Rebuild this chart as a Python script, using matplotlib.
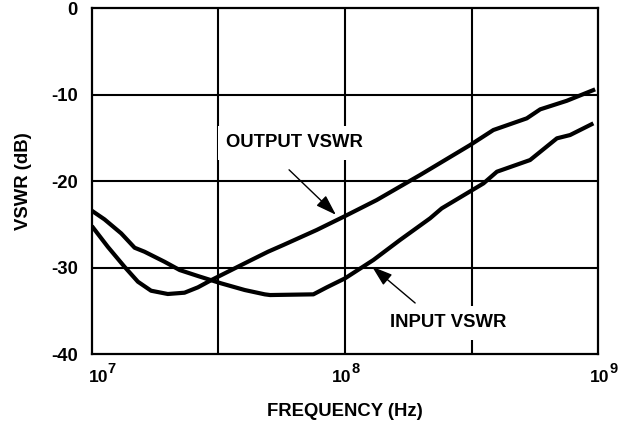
import matplotlib
matplotlib.use('Agg')
import matplotlib.pyplot as plt

plt.rcParams['font.family'] = 'Liberation Sans'
plt.rcParams['font.weight'] = 'bold'
plt.rcParams['axes.unicode_minus'] = False

FS = 13.3

# (log10 of frequency in Hz, VSWR in dB)
input_logf = [7.0, 7.05, 7.116, 7.169, 7.208, 7.287, 7.347, 7.419, 7.511, 7.604, 7.683,
              7.704, 7.875, 7.928, 8.0, 8.112, 8.217, 8.336, 8.382, 8.547, 8.6, 8.731,
              8.837, 8.889, 8.981]
input_vswr = [-23.43, -24.43, -26.05, -27.71, -28.17, -29.33, -30.29, -30.98, -31.83, -32.6, -33.1,
              -33.18, -33.1, -32.29, -31.25, -29.13, -26.82, -24.31, -23.16, -20.27, -18.92, -17.57,
              -15.06, -14.68, -13.33]

output_logf = [7.0, 7.063, 7.129, 7.182, 7.234, 7.3, 7.366, 7.419, 7.472, 7.551, 7.63,
               7.696, 7.756, 7.888, 8.0, 8.125, 8.296, 8.494, 8.586, 8.718, 8.771, 8.876, 8.988]
output_vswr = [-25.2, -27.6, -29.91, -31.64, -32.68, -33.06, -32.91, -32.29, -31.45, -30.29, -29.13,
               -28.17, -27.4, -25.66, -24.05, -22.2, -19.31, -15.84, -14.1, -12.75, -11.71, -10.72, -9.4]

decades = [1e7, 1e8, 1e9]
exponents = ['7', '8', '9']
y_ticks = [0, -10, -20, -30, -40]

input_freq = [10 ** v for v in input_logf]
output_freq = [10 ** v for v in output_logf]

fig = plt.figure(figsize=(6.29, 4.25), dpi=100)
ax = fig.add_axes([0.146, 0.167, 0.805, 0.814])

ax.plot(input_freq, input_vswr, color='black', lw=3, solid_joinstyle='round', solid_capstyle='butt')
ax.plot(output_freq, output_vswr, color='black', lw=3, solid_joinstyle='round', solid_capstyle='butt')

ax.set_xscale('log')
ax.set_xlim(1e7, 1e9)
ax.set_ylim(-40, 0)

ax.set_xticks(decades)
ax.set_xticklabels([])
ax.set_xticks([10 ** 7.5, 10 ** 8.5], minor=True)
ax.set_xticklabels([], minor=True)
ax.set_yticks(y_ticks)
ax.tick_params(which='both', length=0, labelsize=FS)
ax.tick_params(axis='y', pad=10)

# "10" with a big superscript under each decade
shifts = [-3, -13, -8]
for x, e, dx in zip(decades, exponents, shifts):
    ax.annotate('10', xy=(x, 0), xycoords=('data', 'axes fraction'), xytext=(dx, -28),
                textcoords='offset pixels', ha='left', va='baseline', fontsize=12.6,
                fontweight='bold', annotation_clip=False)
    ax.annotate(e, xy=(x, 0), xycoords=('data', 'axes fraction'), xytext=(dx + 19, -19),
                textcoords='offset pixels', ha='left', va='baseline', fontsize=10.5,
                fontweight='bold', annotation_clip=False)

for v in [10 ** 7.5, 1e8, 10 ** 8.5]:
    ax.axvline(v, color='black', lw=1.5, zorder=1)
for v in [-10, -20, -30]:
    ax.axhline(v, color='black', lw=1.5, zorder=1)
for s in ax.spines.values():
    s.set_linewidth(1.6)

ax.set_xlabel('FREQUENCY (Hz)', fontsize=FS, fontweight='bold', va='top')
ax.xaxis.set_label_coords(0.5, -0.142)
ax.set_ylabel('VSWR (dB)', fontsize=FS, fontweight='bold', labelpad=14)

box = dict(facecolor='white', edgecolor='none', pad=6)
ax.text(10 ** 7.80, -15.6, 'OUTPUT VSWR', fontsize=FS, fontweight='bold',
        ha='center', va='center', bbox=box, zorder=3)
ax.text(10 ** 8.407, -36.4, 'INPUT VSWR', fontsize=FS, fontweight='bold',
        ha='center', va='center', bbox=box, zorder=3)

arrow = dict(arrowstyle='-|>,head_length=0.9,head_width=0.3', color='black', lw=1,
             shrinkA=0, shrinkB=0, mutation_scale=14)
ax.annotate('', xy=(10 ** 7.964, -23.9), xytext=(10 ** 7.779, -18.7), arrowprops=arrow, zorder=4)
ax.annotate('', xy=(10 ** 8.107, -29.9), xytext=(10 ** 8.277, -34.1), arrowprops=arrow, zorder=4)

fig.savefig('out.png', dpi=100)
